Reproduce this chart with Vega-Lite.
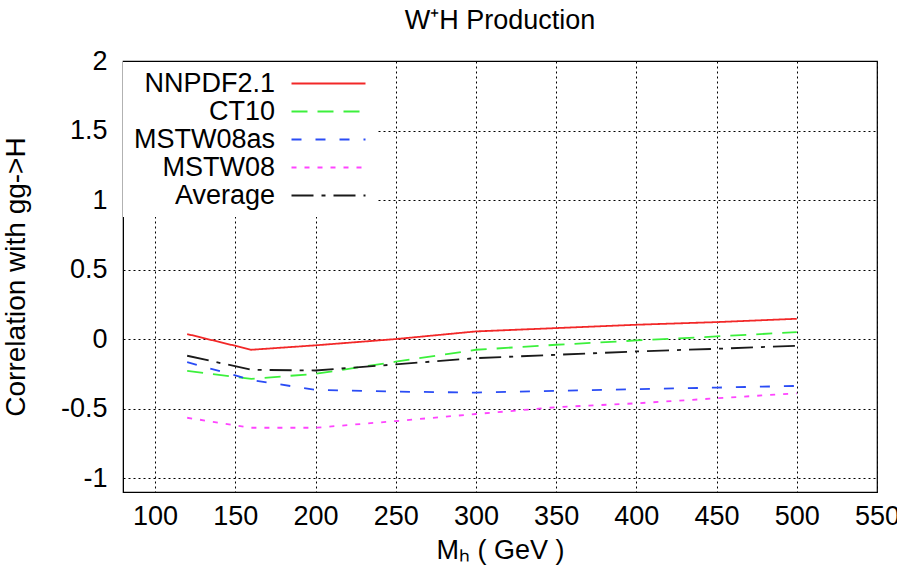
{
  "$schema": "https://vega.github.io/schema/vega-lite/v6.json",
  "width": 754,
  "height": 431,
  "autosize": "none",
  "padding": {"left": 123, "top": 61, "right": 20, "bottom": 84},
  "background": "white",
  "title": {
    "text": "W⁺H Production",
    "font": "Liberation Sans",
    "fontSize": 27,
    "fontWeight": "normal",
    "color": "#000000",
    "anchor": "middle",
    "offset": 12
  },
  "config": {
    "font": "Liberation Sans",
    "view": {"stroke": "#000000", "strokeWidth": 1.2},
    "axis": {
      "domainColor": "#000000",
      "grid": true,
      "gridColor": "#000000",
      "gridDash": [2, 3],
      "gridWidth": 1,
      "gridOpacity": 1,
      "ticks": false,
      "labelFont": "Liberation Sans",
      "labelFontSize": 27,
      "labelColor": "#000000",
      "titleFont": "Liberation Sans",
      "titleFontSize": 27,
      "titleFontWeight": "normal",
      "titleColor": "#000000"
    }
  },
  "data": {
    "values": [
      {"series": "NNPDF2.1", "mh": 120, "corr": 0.036},
      {"series": "NNPDF2.1", "mh": 160, "corr": -0.077},
      {"series": "NNPDF2.1", "mh": 200, "corr": -0.045},
      {"series": "NNPDF2.1", "mh": 250, "corr": 0.0},
      {"series": "NNPDF2.1", "mh": 300, "corr": 0.055},
      {"series": "NNPDF2.1", "mh": 350, "corr": 0.079},
      {"series": "NNPDF2.1", "mh": 400, "corr": 0.103},
      {"series": "NNPDF2.1", "mh": 450, "corr": 0.122},
      {"series": "NNPDF2.1", "mh": 500, "corr": 0.146},
      {"series": "CT10", "mh": 120, "corr": -0.229},
      {"series": "CT10", "mh": 160, "corr": -0.286},
      {"series": "CT10", "mh": 200, "corr": -0.25},
      {"series": "CT10", "mh": 250, "corr": -0.163},
      {"series": "CT10", "mh": 300, "corr": -0.077},
      {"series": "CT10", "mh": 350, "corr": -0.041},
      {"series": "CT10", "mh": 400, "corr": -0.01},
      {"series": "CT10", "mh": 450, "corr": 0.019},
      {"series": "CT10", "mh": 500, "corr": 0.05},
      {"series": "MSTW08as", "mh": 120, "corr": -0.166},
      {"series": "MSTW08as", "mh": 160, "corr": -0.294},
      {"series": "MSTW08as", "mh": 200, "corr": -0.366},
      {"series": "MSTW08as", "mh": 250, "corr": -0.378},
      {"series": "MSTW08as", "mh": 300, "corr": -0.385},
      {"series": "MSTW08as", "mh": 350, "corr": -0.373},
      {"series": "MSTW08as", "mh": 400, "corr": -0.361},
      {"series": "MSTW08as", "mh": 450, "corr": -0.349},
      {"series": "MSTW08as", "mh": 500, "corr": -0.337},
      {"series": "MSTW08", "mh": 120, "corr": -0.566},
      {"series": "MSTW08", "mh": 160, "corr": -0.638},
      {"series": "MSTW08", "mh": 200, "corr": -0.638},
      {"series": "MSTW08", "mh": 250, "corr": -0.59},
      {"series": "MSTW08", "mh": 300, "corr": -0.539},
      {"series": "MSTW08", "mh": 350, "corr": -0.49},
      {"series": "MSTW08", "mh": 400, "corr": -0.462},
      {"series": "MSTW08", "mh": 450, "corr": -0.426},
      {"series": "MSTW08", "mh": 500, "corr": -0.39},
      {"series": "Average", "mh": 120, "corr": -0.12},
      {"series": "Average", "mh": 160, "corr": -0.221},
      {"series": "Average", "mh": 200, "corr": -0.226},
      {"series": "Average", "mh": 250, "corr": -0.182},
      {"series": "Average", "mh": 300, "corr": -0.137},
      {"series": "Average", "mh": 350, "corr": -0.113},
      {"series": "Average", "mh": 400, "corr": -0.089},
      {"series": "Average", "mh": 450, "corr": -0.07},
      {"series": "Average", "mh": 500, "corr": -0.048}
    ]
  },
  "mark": {"type": "line", "strokeWidth": 1.8, "clip": true},
  "encoding": {
    "x": {
      "field": "mh",
      "type": "quantitative",
      "scale": {"domain": [80, 550], "nice": false, "zero": false},
      "axis": {
        "values": [100, 150, 200, 250, 300, 350, 400, 450, 500, 550],
        "title": "Mₕ ( GeV )",
        "labelPadding": 11,
        "titlePadding": 8,
        "labelFlush": false
      }
    },
    "y": {
      "field": "corr",
      "type": "quantitative",
      "scale": {"domain": [-1.1, 2], "nice": false, "zero": false},
      "axis": {
        "values": [-1, -0.5, 0, 0.5, 1, 1.5, 2],
        "labelExpr": "'' + datum.value",
        "title": "Correlation with gg->H",
        "titleFontSize": 28,
        "labelPadding": 16,
        "titlePadding": 30,
        "labelFlush": false
      }
    },
    "color": {
      "field": "series",
      "type": "nominal",
      "sort": ["NNPDF2.1", "CT10", "MSTW08as", "MSTW08", "Average"],
      "scale": {
        "domain": ["NNPDF2.1", "CT10", "MSTW08as", "MSTW08", "Average"],
        "range": ["#f22828", "#3cf03c", "#2a4cf5", "#ff44ff", "#1a1a1a"]
      },
      "legend": {
        "title": null,
        "orient": "none",
        "legendX": 0,
        "legendY": 1,
        "fillColor": "white",
        "padding": 8,
        "symbolType": "M-3.7,0H3.7",
        "symbolSize": 400,
        "symbolStrokeWidth": 2,
        "labelFontSize": 27,
        "labelFont": "Liberation Sans",
        "labelColor": "#000000",
        "labelAlign": "right",
        "labelOffset": -67,
        "symbolOffset": 184,
        "rowPadding": 0,
        "labelLimit": 300
      }
    },
    "strokeDash": {
      "field": "series",
      "type": "nominal",
      "sort": ["NNPDF2.1", "CT10", "MSTW08as", "MSTW08", "Average"],
      "scale": {
        "domain": ["NNPDF2.1", "CT10", "MSTW08as", "MSTW08", "Average"],
        "range": [[1, 0], [16, 10], [10, 14], [5, 8], [22, 8, 4, 8]]
      },
      "legend": null
    },
    "order": {"field": "mh", "type": "quantitative"}
  }
}
